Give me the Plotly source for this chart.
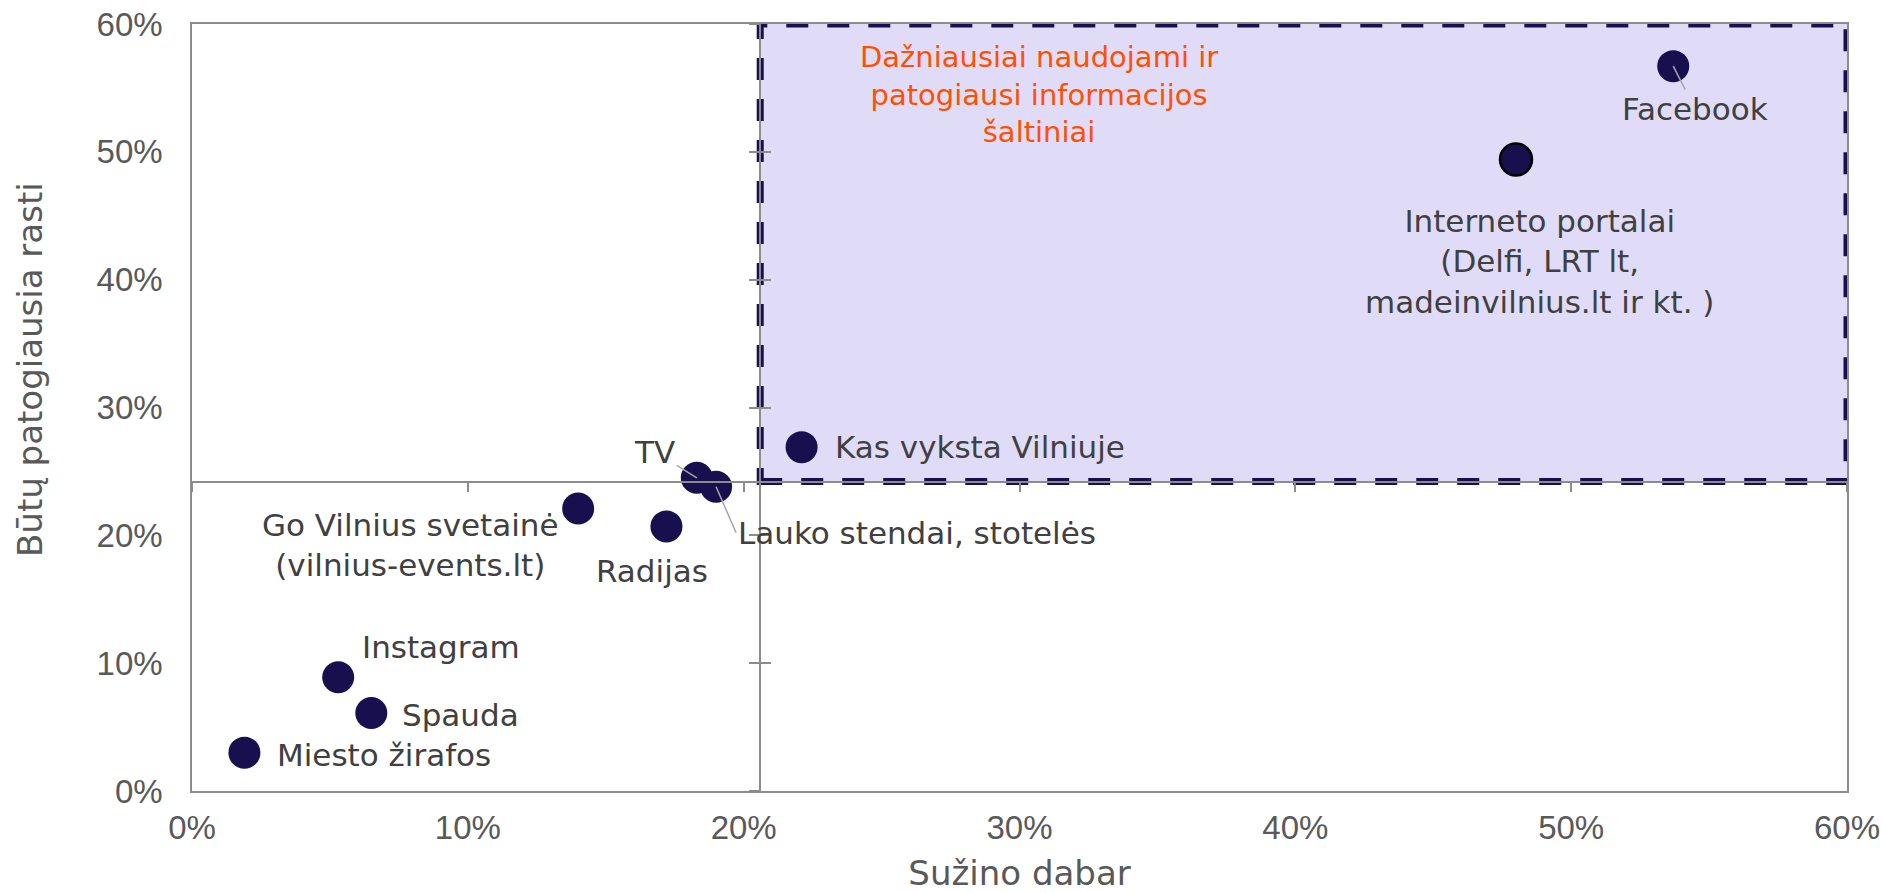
import numpy as np
import plotly.graph_objects as go

# ---------------- data ----------------
sources = [
    "Facebook",
    "Interneto portalai<br>(Delfi, LRT lt,<br>madeinvilnius.lt ir kt. )",
    "Kas vyksta Vilniuje",
    "TV",
    "Lauko stendai, stotelės",
    "Go Vilnius svetainė<br>(vilnius-events.lt)",
    "Radijas",
    "Instagram",
    "Spauda",
    "Miesto žirafos",
]
suzino_dabar = [53.7, 48.0, 22.1, 18.3, 19.0, 14.0, 17.2, 5.3, 6.5, 1.9]       # x, %
patogiausia_rasti = [56.7, 49.4, 26.9, 24.5, 23.8, 22.1, 20.7, 8.9, 6.1, 3.0]  # y, %

tick_values = [0, 10, 20, 30, 40, 50, 60]
tick_labels = ["0%", "10%", "20%", "30%", "40%", "50%", "60%"]
axis_max = 60

x_title = "Sužino dabar"
y_title = "Būtų patogiausia rasti"
quadrant_text = "Dažniausiai naudojami ir<br>patogiausi informacijos<br>šaltiniai"
quadrant_text_pos = (30.7, 54.5)

# quadrant split at the averages
x_mean = float(np.mean(suzino_dabar))
y_mean = float(np.mean(patogiausia_rasti))

# ---------------- styles ----------------
NAVY = "#180F4F"
GRAY_LINE = "#8C8C8C"
LABEL_COLOR = "#404040"
AXIS_TEXT = "#595959"
ORANGE = "#FF5000"
FILL = "#E0DCF8"
LABEL_FONT = "DejaVu Sans"
LABEL_SIZE = 31

# label placement (pixel offsets): (xanchor, dx, dy_up, arrow)
label_style = [
    ("center", 22, -43, True),     # Facebook
    ("center", 23, -102, False),   # Interneto portalai
    ("left", 31, 0, False),        # Kas vyksta Vilniuje
    ("center", -42, 26, True),     # TV
    ("left", 20, -46, True),       # Lauko stendai
    ("center", -168, -37, False),  # Go Vilnius
    ("center", -14, -45, False),   # Radijas
    ("left", 22, 30, False),       # Instagram
    ("left", 29, -2, False),       # Spauda
    ("left", 31, -2, False),       # Miesto žirafos
]
outline = [0, 2.5, 0, 0, 0, 0, 0, 0, 0, 0]

W, H = 1881, 893
L, R, T, B = 192, 34, 24, 102

fig = go.Figure()

fig.add_trace(go.Scatter(
    x=suzino_dabar, y=patogiausia_rasti, mode="markers",
    marker=dict(size=32, color=NAVY, line=dict(width=outline, color="#000000")),
    text=sources, hoverinfo="text", showlegend=False,
))

# empty helper traces so that the crossing axes get drawn
for xa, ya in (("x2", "y"), ("x", "y2"), ("x", "y3")):
    fig.add_trace(go.Scatter(x=[None], y=[None], xaxis=xa, yaxis=ya, mode="markers",
                             showlegend=False, hoverinfo="skip"))

# highlighted quadrant
fig.add_shape(
    type="rect", xref="x", yref="y",
    x0=x_mean, x1=axis_max, y0=y_mean, y1=axis_max,
    fillcolor=FILL, line=dict(color=NAVY, width=7, dash="22px,19px"),
    layer="below",
)

annotations = []
for name, xv, yv, (xa, dx, dy, arrow) in zip(sources, suzino_dabar, patogiausia_rasti, label_style):
    if arrow:
        annotations.append(dict(
            x=xv, y=yv, xref="x", yref="y", text=name, showarrow=True,
            ax=dx, ay=-dy, axref="pixel", ayref="pixel",
            arrowhead=0, arrowwidth=1.5, arrowcolor="#A6A6A6", standoff=0,
            xanchor=xa, yanchor="middle", align="center",
            font=dict(family=LABEL_FONT, size=LABEL_SIZE, color=LABEL_COLOR),
        ))
    else:
        annotations.append(dict(
            x=xv, y=yv, xref="x", yref="y", text=name, showarrow=False,
            xshift=dx, yshift=dy, xanchor=xa, yanchor="middle", align="center",
            font=dict(family=LABEL_FONT, size=LABEL_SIZE, color=LABEL_COLOR),
        ))

annotations.append(dict(
    x=quadrant_text_pos[0], y=quadrant_text_pos[1], xref="x", yref="y",
    text=quadrant_text, showarrow=False, align="center",
    xanchor="center", yanchor="middle",
    font=dict(family=LABEL_FONT, size=29, color=ORANGE),
))

# y-axis title
annotations.append(dict(
    x=-0.098, y=0.55, xref="paper", yref="paper", text=y_title, textangle=-90,
    showarrow=False, xanchor="center", yanchor="middle",
    font=dict(family=LABEL_FONT, size=34, color=AXIS_TEXT),
))

common_axis = dict(range=[0, axis_max], tickvals=tick_values, showgrid=False,
                   zeroline=False, fixedrange=True, automargin=False)

fig.update_layout(
    template="none",
    width=W, height=H,
    margin=dict(l=L, r=R, t=T, b=B, autoexpand=False),
    paper_bgcolor="white", plot_bgcolor="white",
    showlegend=False,
    xaxis=dict(**common_axis, ticktext=tick_labels, showline=True, mirror=True,
               linecolor=GRAY_LINE, linewidth=1.5, ticks="",
               tickfont=dict(family="Liberation Sans", size=33, color=AXIS_TEXT),
               ticklabelstandoff=7, ticklabeloverflow="allow",
               title=dict(text=x_title, standoff=19,
                          font=dict(family=LABEL_FONT, size=34, color=AXIS_TEXT))),
    yaxis=dict(**common_axis, ticktext=tick_labels, showline=True, mirror=True,
               linecolor=GRAY_LINE, linewidth=1.5, ticks="",
               tickfont=dict(family="Liberation Sans", size=33, color=AXIS_TEXT),
               ticklabelstandoff=21, ticklabeloverflow="allow"),
    # crossing axes at the averages (carry the tick marks)
    xaxis2=dict(**common_axis, overlaying="x", anchor="free", position=y_mean / axis_max,
                showline=True, linecolor=GRAY_LINE, linewidth=1.5,
                ticks="outside", ticklen=10, tickcolor=GRAY_LINE, tickwidth=1.5,
                showticklabels=False),
    yaxis2=dict(**common_axis, overlaying="y", anchor="free", position=x_mean / axis_max,
                showline=True, linecolor=GRAY_LINE, linewidth=1.5,
                ticks="outside", ticklen=10, tickcolor=GRAY_LINE, tickwidth=1.5,
                showticklabels=False),
    yaxis3=dict(**common_axis, overlaying="y", anchor="free", position=x_mean / axis_max,
                showline=False,
                ticks="inside", ticklen=10, tickcolor=GRAY_LINE, tickwidth=1.5,
                showticklabels=False),
    annotations=annotations,
)

# remove the default page margin so the figure fills the window exactly
fig.write_html("out.html", config={"displayModeBar": False},
               post_script="document.body.style.margin='0';")
